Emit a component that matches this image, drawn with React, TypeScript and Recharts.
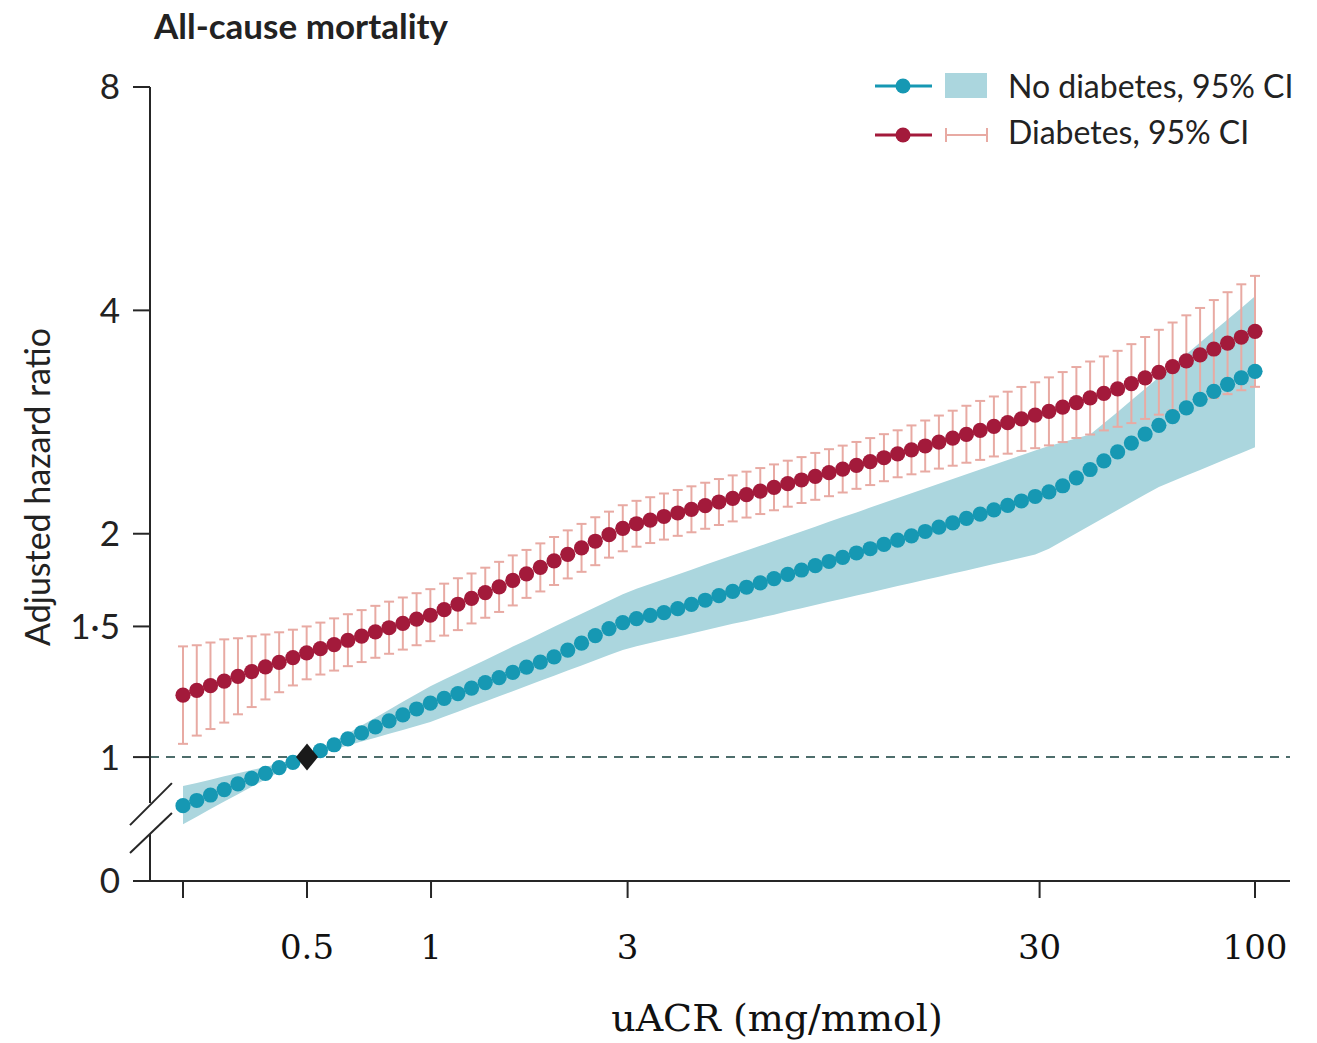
import React from 'react';
import {
  ComposedChart,
  Line,
  Area,
  Scatter,
  XAxis,
  YAxis,
  ErrorBar,
  ReferenceLine,
} from 'recharts';

// uACR (mg/mmol) at each estimate
const uacr = [
  0.25, 0.27, 0.2915, 0.3148, 0.3399, 0.367, 0.3963, 0.4279, 0.4621, 0.499,
  0.5388, 0.5818, 0.6283, 0.6784, 0.7326, 0.791, 0.8542, 0.9224, 0.9962, 1.076,
  1.162, 1.254, 1.354, 1.463, 1.579, 1.705, 1.842, 1.989, 2.147, 2.319,
  2.504, 2.704, 2.92, 3.153, 3.404, 3.676, 3.97, 4.286, 4.629, 4.998,
  5.398, 5.831, 6.297, 6.8, 7.343, 7.93, 8.563, 9.247, 9.982, 10.78,
  11.64, 12.57, 13.57, 14.66, 15.83, 17.09, 18.46, 19.93, 21.52, 23.24,
  25.1, 27.1, 29.27, 31.61, 34.13, 36.85, 39.79, 42.97, 46.4, 50.11,
  54.11, 58.43, 63.09, 68.13, 73.57, 79.44, 85.78, 92.63, 100,
];

// Diabetes: adjusted HR and 95% CI
const redHR = [
  1.212, 1.23, 1.248, 1.266, 1.285, 1.304, 1.323, 1.342, 1.362, 1.382,
  1.4, 1.418, 1.437, 1.456, 1.475, 1.494, 1.514, 1.534, 1.553, 1.58,
  1.607, 1.636, 1.666, 1.696, 1.73, 1.766, 1.802, 1.838, 1.876, 1.914,
  1.954, 1.994, 2.034, 2.063, 2.086, 2.11, 2.133, 2.157, 2.182, 2.207,
  2.232, 2.258, 2.283, 2.31, 2.336, 2.363, 2.39, 2.417, 2.444, 2.473,
  2.502, 2.532, 2.563, 2.594, 2.626, 2.658, 2.69, 2.723, 2.756, 2.79,
  2.823, 2.856, 2.889, 2.924, 2.963, 3.005, 3.048, 3.091, 3.136, 3.187,
  3.243, 3.301, 3.36, 3.42, 3.483, 3.548, 3.613, 3.68, 3.748,
];
const redLow = [
  1.042, 1.069, 1.091, 1.113, 1.142, 1.168, 1.196, 1.223, 1.249, 1.273,
  1.292, 1.308, 1.326, 1.343, 1.361, 1.378, 1.396, 1.415, 1.433, 1.458,
  1.483, 1.514, 1.541, 1.569, 1.601, 1.639, 1.672, 1.706, 1.741, 1.777,
  1.814, 1.857, 1.894, 1.921, 1.943, 1.964, 1.987, 2.009, 2.031, 2.055,
  2.078, 2.103, 2.126, 2.151, 2.175, 2.2, 2.222, 2.247, 2.273, 2.299,
  2.326, 2.354, 2.383, 2.405, 2.426, 2.448, 2.47, 2.493, 2.515, 2.542,
  2.564, 2.586, 2.608, 2.631, 2.658, 2.692, 2.721, 2.756, 2.787, 2.819,
  2.856, 2.894, 2.932, 2.97, 3.011, 3.048, 3.084, 3.122, 3.155,
];
const redHigh = [
  1.41, 1.415, 1.427, 1.441, 1.446, 1.455, 1.463, 1.473, 1.485, 1.5,
  1.518, 1.538, 1.558, 1.578, 1.599, 1.62, 1.641, 1.663, 1.684, 1.713,
  1.742, 1.768, 1.8, 1.833, 1.87, 1.902, 1.941, 1.98, 2.021, 2.062,
  2.105, 2.142, 2.185, 2.215, 2.24, 2.266, 2.291, 2.317, 2.343, 2.37,
  2.397, 2.425, 2.452, 2.48, 2.509, 2.537, 2.57, 2.6, 2.629, 2.659,
  2.691, 2.724, 2.757, 2.799, 2.842, 2.886, 2.93, 2.975, 3.02, 3.062,
  3.108, 3.154, 3.2, 3.249, 3.303, 3.355, 3.413, 3.467, 3.528, 3.602,
  3.683, 3.766, 3.852, 3.939, 4.03, 4.13, 4.232, 4.337, 4.452,
];

// No diabetes: adjusted HR and 95% CI
const tealHR = [
  0.86, 0.874, 0.889, 0.904, 0.92, 0.936, 0.951, 0.968, 0.984, 1.0,
  1.02, 1.039, 1.058, 1.078, 1.098, 1.119, 1.14, 1.161, 1.182, 1.2,
  1.218, 1.239, 1.26, 1.28, 1.301, 1.322, 1.343, 1.365, 1.394, 1.424,
  1.458, 1.49, 1.518, 1.537, 1.552, 1.566, 1.585, 1.606, 1.627, 1.65,
  1.672, 1.694, 1.717, 1.74, 1.763, 1.787, 1.811, 1.835, 1.859, 1.884,
  1.909, 1.935, 1.961, 1.987, 2.014, 2.041, 2.068, 2.097, 2.125, 2.154,
  2.184, 2.214, 2.245, 2.278, 2.321, 2.379, 2.441, 2.508, 2.578, 2.65,
  2.725, 2.8, 2.877, 2.955, 3.035, 3.111, 3.18, 3.245, 3.311,
];
const tealLow = [
  0.812, 0.831, 0.851, 0.871, 0.891, 0.912, 0.933, 0.955, 0.977, 1.0,
  1.012, 1.025, 1.037, 1.05, 1.062, 1.075, 1.088, 1.101, 1.115, 1.133,
  1.151, 1.17, 1.188, 1.208, 1.227, 1.247, 1.267, 1.287, 1.308, 1.329,
  1.351, 1.373, 1.394, 1.411, 1.425, 1.439, 1.453, 1.468, 1.482, 1.497,
  1.512, 1.526, 1.541, 1.556, 1.572, 1.587, 1.603, 1.619, 1.634, 1.651,
  1.667, 1.683, 1.7, 1.716, 1.734, 1.75, 1.768, 1.785, 1.803, 1.82,
  1.838, 1.857, 1.875, 1.909, 1.955, 2.003, 2.052, 2.102, 2.153, 2.205,
  2.259, 2.313, 2.354, 2.396, 2.438, 2.481, 2.525, 2.57, 2.615,
];
const tealHigh = [
  0.914, 0.923, 0.932, 0.942, 0.951, 0.961, 0.97, 0.98, 0.99, 1.0,
  1.025, 1.05, 1.076, 1.103, 1.13, 1.158, 1.187, 1.216, 1.246, 1.272,
  1.298, 1.325, 1.352, 1.38, 1.409, 1.437, 1.467, 1.498, 1.529, 1.56,
  1.592, 1.625, 1.658, 1.686, 1.711, 1.737, 1.763, 1.789, 1.816, 1.843,
  1.871, 1.898, 1.927, 1.955, 1.985, 2.014, 2.044, 2.075, 2.106, 2.137,
  2.169, 2.201, 2.234, 2.267, 2.301, 2.336, 2.37, 2.405, 2.441, 2.478,
  2.514, 2.552, 2.59, 2.625, 2.657, 2.689, 2.721, 2.817, 2.919, 3.026,
  3.136, 3.251, 3.369, 3.492, 3.62, 3.752, 3.889, 4.03, 4.178,
];

// Reference category (HR = 1)
const referencePoint = [{ x: 0.5, y: 1 }];

// Axis ticks
const xTicks = [0.25, 0.5, 1, 3, 30, 100];
const xTickLabels = ['', '0.5', '1', '3', '30', '100'];
const yTicks = [0.6808, 1, 1.5, 2, 4, 8];
const yTickLabels = ['0', '1', '1·5', '2', '4', '8'];

const data = uacr.map((x, i) => ({
  x,
  teal: tealHR[i],
  band: [tealLow[i], tealHigh[i]],
  red: redHR[i],
  redErr: [redHR[i] - redLow[i], redHigh[i] - redHR[i]],
}));

const TEAL = '#1698b3';
const BAND = '#abd6de';
const RED = '#a31a3b';
const PINK = '#e8aaa3';
const AXIS = '#262626';
const DASH = '#4d6d6b';

const X_MIN = 0.2079;
const X_MAX = 121.6;
const Y_MIN = 0.6808;
const Y_MAX = 8;

const Diamond = (props: any) => {
  const { cx, cy } = props;
  if (cx == null || cy == null) return null;
  return (
    <path
      d={`M${cx},${cy - 13.5} L${cx + 11},${cy} L${cx},${cy + 13.5} L${cx - 11},${cy} Z`}
      fill="#1a1a1a"
    />
  );
};

const sans = 'Lato, "Noto Sans", sans-serif';
const serif = '"DejaVu Serif", "Liberation Serif", serif';

export default function App() {
  return (
    <div style={{ position: 'absolute', left: 0, top: 0, width: 1317, height: 1043, background: '#fff' }}>
      <div
        style={{
          position: 'absolute',
          left: 154,
          top: 8,
          fontFamily: sans,
          fontWeight: 700,
          fontSize: 35,
          lineHeight: '35px',
          color: '#222',
          whiteSpace: 'nowrap',
        }}
      >
        All-cause mortality
      </div>

      <ComposedChart
        width={1317}
        height={1043}
        data={data}
        margin={{ top: 87, right: 27, bottom: 62, left: 50 }}
      >
        <XAxis
          dataKey="x"
          type="number"
          scale="log"
          domain={[X_MIN, X_MAX]}
          allowDataOverflow
          ticks={xTicks}
          interval={0}
          tickFormatter={(v: number) => {
            const idx = xTicks.indexOf(v);
            return idx >= 0 ? xTickLabels[idx] : '';
          }}
          height={100}
          tickSize={17}
          tickMargin={37}
          axisLine={{ stroke: AXIS, strokeWidth: 2 }}
          tickLine={{ stroke: AXIS, strokeWidth: 2 }}
          tick={{ fontFamily: serif, fontSize: 34, fill: '#111' }}
        />
        <YAxis
          type="number"
          scale="log"
          domain={[Y_MIN, Y_MAX]}
          allowDataOverflow
          ticks={yTicks}
          interval={0}
          tickFormatter={(v: number) => {
            const idx = yTicks.indexOf(v);
            return idx >= 0 ? yTickLabels[idx] : '';
          }}
          width={100}
          axisLine={false}
          tickSize={17}
          tickMargin={13}
          tickLine={{ stroke: AXIS, strokeWidth: 2 }}
          tick={{ fontFamily: sans, fontSize: 35, fill: '#222' }}
        />

        <Area
          dataKey="band"
          type="linear"
          stroke="none"
          fill={BAND}
          fillOpacity={1}
          isAnimationActive={false}
          activeDot={false}
        />

        <ReferenceLine y={1} stroke={DASH} strokeWidth={2} strokeDasharray="9 7" />

        <Line
          dataKey="teal"
          stroke="none"
          dot={{ r: 7.6, fill: TEAL, stroke: 'none' }}
          activeDot={false}
          isAnimationActive={false}
        />
        <Line
          dataKey="red"
          stroke="none"
          dot={{ r: 7.6, fill: RED, stroke: 'none' }}
          activeDot={false}
          isAnimationActive={false}
        >
          <ErrorBar dataKey="redErr" direction="y" width={5} stroke={PINK} strokeWidth={2} isAnimationActive={false} />
        </Line>

        <Scatter data={referencePoint} dataKey="y" shape={Diamond} isAnimationActive={false} />

        {/* y axis line with break */}
        <ReferenceLine
          segment={[{ x: X_MIN, y: Y_MAX }, { x: X_MIN, y: 0.867 }]}
          stroke={AXIS}
          strokeWidth={2}
          ifOverflow="visible"
        />
        <ReferenceLine
          segment={[{ x: X_MIN, y: 0.7876 }, { x: X_MIN, y: Y_MIN }]}
          stroke={AXIS}
          strokeWidth={2}
          ifOverflow="visible"
        />
        <ReferenceLine
          segment={[{ x: 0.1859, y: 0.8098 }, { x: 0.235, y: 0.9225 }]}
          stroke={AXIS}
          strokeWidth={2}
          ifOverflow="visible"
        />
        <ReferenceLine
          segment={[{ x: 0.1859, y: 0.7425 }, { x: 0.235, y: 0.8406 }]}
          stroke={AXIS}
          strokeWidth={2}
          ifOverflow="visible"
        />
      </ComposedChart>

      {/* Legend */}
      <div style={{ position: 'absolute', left: 0, top: 0, pointerEvents: 'none' }}>
        <svg width={1317} height={160} style={{ position: 'absolute', left: 0, top: 0 }}>
          <line x1={875} y1={86} x2={932} y2={86} stroke={TEAL} strokeWidth={3} />
          <circle cx={903} cy={86} r={7.5} fill={TEAL} />
          <rect x={945} y={73} width={42} height={25} fill={BAND} />
          <line x1={875} y1={135} x2={932} y2={135} stroke={RED} strokeWidth={3} />
          <circle cx={903} cy={135} r={7.5} fill={RED} />
          <line x1={946} y1={135} x2={987} y2={135} stroke={PINK} strokeWidth={2} />
          <line x1={946} y1={128} x2={946} y2={142} stroke={PINK} strokeWidth={2} />
          <line x1={987} y1={128} x2={987} y2={142} stroke={PINK} strokeWidth={2} />
        </svg>
        <div
          style={{
            position: 'absolute',
            left: 1008,
            top: 70,
            fontFamily: sans,
            fontSize: 32,
            lineHeight: '32px',
            color: '#222',
            whiteSpace: 'nowrap',
          }}
        >
          No diabetes, 95% CI
        </div>
        <div
          style={{
            position: 'absolute',
            left: 1008,
            top: 116,
            fontFamily: sans,
            fontSize: 32,
            lineHeight: '32px',
            color: '#222',
            whiteSpace: 'nowrap',
          }}
        >
          Diabetes, 95% CI
        </div>
      </div>

      {/* Axis titles */}
      <div
        style={{
          position: 'absolute',
          left: 37 - 200,
          top: 487 - 20,
          width: 400,
          height: 40,
          lineHeight: '40px',
          textAlign: 'center',
          transform: 'rotate(-90deg)',
          fontFamily: sans,
          fontSize: 34,
          color: '#222',
          whiteSpace: 'nowrap',
        }}
      >
        Adjusted hazard ratio
      </div>
      <div
        style={{
          position: 'absolute',
          left: 527,
          top: 996,
          width: 500,
          lineHeight: '44px',
          textAlign: 'center',
          fontFamily: serif,
          fontSize: 38,
          color: '#111',
          whiteSpace: 'nowrap',
        }}
      >
        uACR (mg/mmol)
      </div>
    </div>
  );
}
